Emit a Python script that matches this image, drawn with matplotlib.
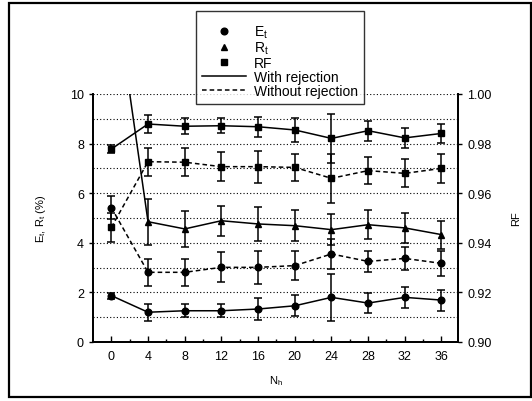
import numpy as np
import matplotlib
matplotlib.use("Agg")
import matplotlib.pyplot as plt
from matplotlib.lines import Line2D
from matplotlib.patches import Rectangle

plt.rcParams['font.family'] = ['Liberation Sans', 'DejaVu Sans']
plt.rcParams['font.size'] = 9

# N_h values
nh = [0, 4, 8, 12, 16, 20, 24, 28, 32, 36]

# E_t (%) with / without rejection
et_rej = [1.87, 1.20, 1.26, 1.26, 1.33, 1.46, 1.80, 1.57, 1.80, 1.69]
et_rej_err = [0.12, 0.35, 0.27, 0.27, 0.43, 0.43, 0.95, 0.42, 0.42, 0.42]
et_norej = [5.42, 2.81, 2.81, 3.01, 3.01, 3.08, 3.55, 3.25, 3.37, 3.17]
et_norej_err = [0.45, 0.54, 0.54, 0.60, 0.67, 0.57, 0.62, 0.43, 0.46, 0.50]

# R_t (%) with rejection (value at N_h = 0 is off scale)
rt_rej = [15.2, 4.85, 4.56, 4.89, 4.76, 4.69, 4.53, 4.73, 4.60, 4.33]
rt_rej_err = [0.0, 0.93, 0.74, 0.60, 0.68, 0.62, 0.63, 0.58, 0.60, 0.56]

# RF with / without rejection
rf_rej = [0.9778, 0.9879, 0.9870, 0.9872, 0.9868, 0.9855, 0.9821, 0.9852, 0.9823, 0.9841]
rf_rej_err = [0.0015, 0.0038, 0.0032, 0.0030, 0.0040, 0.0049, 0.0100, 0.0040, 0.0040, 0.0040]
rf_norej = [0.9462, 0.9727, 0.9725, 0.9707, 0.9707, 0.9704, 0.9660, 0.9691, 0.9680, 0.9700]
rf_norej_err = [0.0058, 0.0057, 0.0057, 0.0058, 0.0065, 0.0056, 0.0100, 0.0055, 0.0057, 0.0060]

fig = plt.figure(figsize=(5.32, 4.02), dpi=100)
ax = fig.add_axes([93/532, 1 - 343/402, (458 - 93)/532, (343 - 95)/402])
ax2 = ax.twinx()

kw = dict(color='k', lw=1.1, elinewidth=1.1, capsize=3.2, capthick=1.1, ms=4.8)
dash = (0, (3, 2))

ax.errorbar(nh, et_rej, yerr=et_rej_err, fmt='o', ls='-', **kw)
ax.errorbar(nh, et_norej, yerr=et_norej_err, fmt='o', ls=dash, **kw)
ax.errorbar(nh, rt_rej, yerr=rt_rej_err, fmt='^', ls='-', **kw)
ax2.errorbar(nh, rf_rej, yerr=rf_rej_err, fmt='s', ls='-', **kw)
ax2.errorbar(nh, rf_norej, yerr=rf_norej_err, fmt='s', ls=dash, **kw)

ax.set_xlim(-2, 37.8)
ax.set_ylim(0, 10)
ax2.set_ylim(0.90, 1.00)

ax.set_xticks(np.arange(0, 37, 4))
ax.set_xticks(np.arange(2, 37, 4), minor=True)
ax.set_yticks(np.arange(0, 11, 2))
ax.set_yticks(np.arange(1, 11, 2), minor=True)
ax2.set_yticks(np.arange(0.90, 1.001, 0.02))
ax2.set_yticklabels(['%.2f' % v for v in np.arange(0.90, 1.001, 0.02)])

for y in range(1, 11):
    ax.axhline(y, color='k', lw=0.8, ls=(0, (1, 2)), zorder=0)

ax.tick_params(axis='x', direction='in', length=4, width=1, pad=6)
ax.tick_params(axis='x', which='minor', direction='in', length=2, width=1)
ax.tick_params(axis='y', direction='out', length=3, width=1)
ax.tick_params(axis='y', which='minor', length=0)
ax2.tick_params(axis='y', direction='out', length=3, width=1)

for a in (ax, ax2):
    a.spines['top'].set_visible(False)
    for s in ('left', 'right', 'bottom'):
        a.spines[s].set_linewidth(1.3)

ax.set_xlabel(r'N$_\mathregular{h}$', fontsize=8, labelpad=8)
ax.set_ylabel(r'E$_\mathregular{t}$, R$_\mathregular{t}$ (%)', fontsize=8, labelpad=16)
ax2.set_ylabel('RF', fontsize=8, labelpad=14)

handles = [
    Line2D([], [], color='k', marker='o', ls='none', ms=4.8),
    Line2D([], [], color='k', marker='^', ls='none', ms=4.8),
    Line2D([], [], color='k', marker='s', ls='none', ms=4.8),
    Line2D([], [], color='k', ls='-', lw=1.1),
    Line2D([], [], color='k', ls=dash, lw=1.1),
]
labels = [r'E$_\mathregular{t}$', r'R$_\mathregular{t}$', 'RF',
          'With rejection', 'Without rejection']
leg = fig.legend(handles, labels, loc='upper left',
                 bbox_to_anchor=(196/532, 1 - 12/402), fontsize=10,
                 title=' ', title_fontsize=6,
                 frameon=True, fancybox=False, edgecolor='k',
                 handlelength=3.2, labelspacing=0.0, borderpad=0.4,
                 borderaxespad=0, handletextpad=0.6)
leg.get_frame().set_linewidth(1.0)
leg.set_zorder(10)

fig.patches.append(Rectangle((9/532, 4/402), 522/532, 394/402, fill=False,
                             lw=1.6, ec='k', transform=fig.transFigure))

fig.savefig('out.png', dpi=100)
